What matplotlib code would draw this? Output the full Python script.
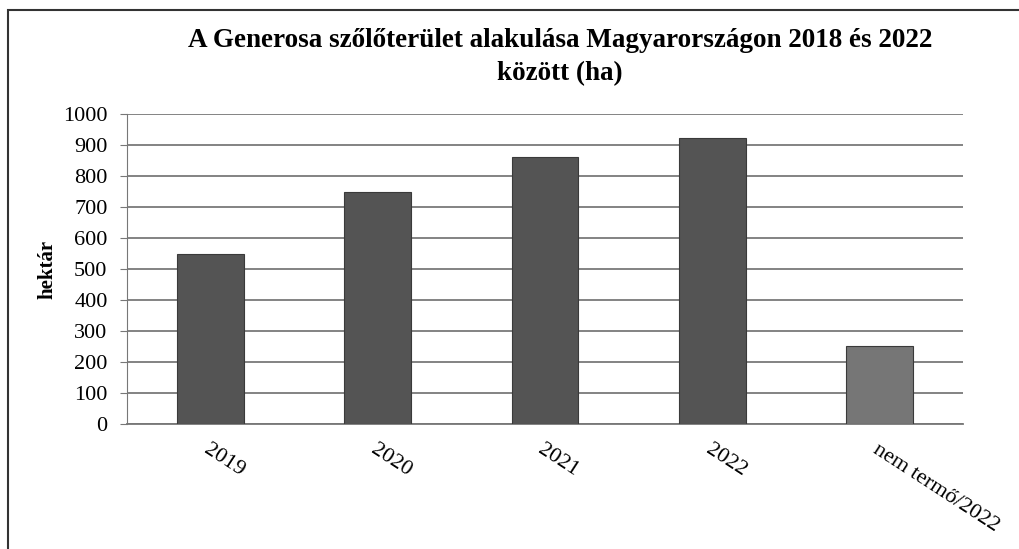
import matplotlib.pyplot as plt
from matplotlib.patches import Rectangle
import numpy as np

# Generosa szőlőterület (ha)
kategoriak = ['2019', '2020', '2021', '2022', 'nem termő/2022']
terulet = [548, 748, 862, 923, 253]
szinek = ['#545454', '#545454', '#545454', '#545454', '#767676']

plt.rcParams['font.family'] = ['Liberation Serif', 'DejaVu Serif']

fig = plt.figure(figsize=(10.2, 5.49), dpi=100)
ax = fig.add_axes([127/1020, 1 - 424/549, 836/1020, 310/549])

x = np.arange(len(kategoriak))
ax.bar(x, terulet, 0.4, color=szinek, edgecolor='#3a3a3a', linewidth=0.8, zorder=3)

ax.set_xlim(-0.5, len(kategoriak) - 0.5)
ax.set_ylim(0, 1000)
ax.set_yticks(range(0, 1001, 100))
ax.tick_params(axis='y', labelsize=16, length=5, color='#777777', pad=9)
ax.set_xticks(x)
ax.set_xticklabels(kategoriak, rotation=-33, ha='left', va='top',
                   rotation_mode='anchor', fontsize=16)
ax.tick_params(axis='x', length=0, pad=12)
for lbl in ax.get_xticklabels():
    lbl.set_x(lbl.get_position()[0])
ax.grid(axis='y', color='#7a7a7a', linewidth=1.3, zorder=0)

for s in ['top', 'right']:
    ax.spines[s].set_visible(False)
ax.spines['left'].set_color('#777777')
ax.spines['bottom'].set_color('#777777')
ax.spines['bottom'].set_linewidth(1.3)

ax.set_ylabel('hektár', fontsize=15, fontweight='bold', labelpad=4)
fig.text(560/1020, 1 - 57/549,
         'A Generosa szőlőterület alakulása Magyarországon 2018 és 2022\nközött (ha)',
         ha='center', va='center', fontsize=19.5, fontweight='bold', linespacing=1.45)

# keret
fig.patches.append(Rectangle((8/1020, -0.05), 1.2, 1 - 10/549 + 0.05,
                             transform=fig.transFigure, fill=False,
                             edgecolor='#333333', linewidth=1.5))

fig.savefig('out.png', dpi=100)
